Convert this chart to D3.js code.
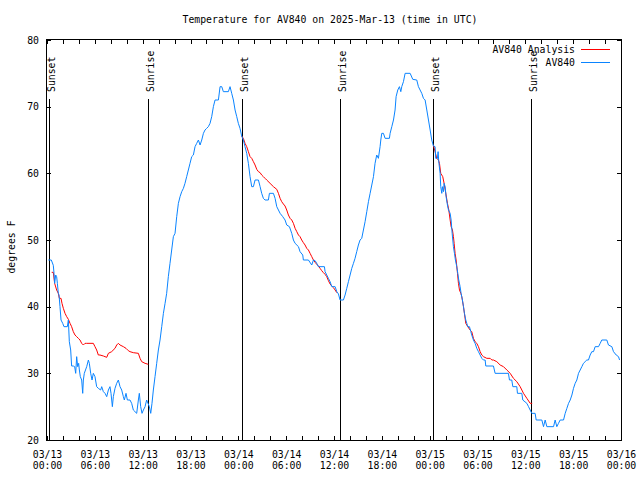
<!DOCTYPE html>
<html>
<head>
<meta charset="utf-8">
<script src="https://cdn.jsdelivr.net/npm/d3@7/dist/d3.min.js"></script>
<style>
  html, body { margin: 0; padding: 0; background: #fff; }
  svg { display: block; }
  text { font-family: "DejaVu Sans Mono", "Liberation Mono", monospace; font-size: 9.8px; fill: #000; }
</style>
</head>
<body>
<svg id="chart" width="640" height="480"></svg>
<script>
// ---- DATA (hours since 2025-03-13 00:00 UTC, degrees F) ----
const title = "Temperature for AV840 on 2025-Mar-13 (time in UTC)";
const yLabel = "degrees F";
const seriesNames = ["AV840 Analysis", "AV840"];
const yTicks = [20, 30, 40, 50, 60, 70, 80];

const sunsetHours = [0.3, 24.43, 48.47];
const sunriseHours = [12.71, 36.69, 60.76];

const analysisHours = [0.59,0.79,0.96,1.21,1.42,1.55,1.76,1.88,2.05,2.26,2.47,2.68,2.89,3.09,3.30,3.51,3.72,3.93,4.14,4.35,4.56,4.77,4.98,5.81,6.02,6.23,6.44,6.65,7.07,7.49,7.70,8.11,8.53,8.74,8.95,9.16,9.58,9.91,10.20,10.41,10.83,11.46,11.67,11.88,12.30,12.71,
  18.0,
  24.42,24.63,24.84,25.05,25.26,25.47,25.68,25.89,26.10,26.31,26.52,26.73,26.93,27.14,27.35,27.56,27.98,28.40,28.82,29.03,29.24,29.44,29.65,29.86,30.07,30.28,30.49,30.70,30.91,31.12,31.33,31.54,31.74,31.95,32.16,32.37,32.58,32.79,33.00,33.21,33.42,33.63,33.84,34.04,34.25,34.46,34.67,34.88,35.09,35.30,35.51,35.72,35.93,36.14,36.35,
  42.0,
  48.47,48.89,49.10,49.23,49.39,49.64,49.81,50.06,50.23,50.40,50.57,50.69,50.86,50.98,51.07,51.19,51.32,51.49,51.61,51.74,51.91,52.03,52.24,52.36,52.53,52.78,53.07,53.28,53.49,53.70,53.91,54.12,54.33,54.54,54.75,55.17,55.59,55.80,56.00,56.42,56.84,57.26,57.68,58.10,58.51,58.93,59.35,59.77,60.19,60.61,60.86];
const analysisTemps = [45.15,45.15,43.5,42.5,42,41.25,41.25,40.5,39.75,39,38.5,38.1,37.5,37,36.25,35.75,35.5,35.25,35,34.5,34.25,34.5,34.5,34.5,34,33.5,32.75,32.75,32.6,32.4,33,33.25,33.75,34.25,34.5,34.25,34,33.75,33.4,33.25,33.1,33,32.25,31.75,31.5,31.35,
  null,
  65.6,65.25,64.5,64,63.25,62.5,62.25,61.75,61.25,60.6,60.25,60.1,59.75,59.5,59.25,59,58.5,58,57.6,57,56.25,55.75,55.4,55.1,54.5,53.75,53.25,53,52.5,51.75,51.25,50.75,50.5,50,49.6,49.25,48.75,48.5,48,47.5,47,46.65,46.35,46.1,45.75,45.4,45.1,44.85,44.5,43.9,43.4,43.1,42.85,42.5,42.1,
  null,
  64.25,62.25,62,61.5,60,59.5,58.5,56.75,55.5,54.5,53,52,51.5,50.5,49.5,48,47,45,43.5,42.5,42,41.5,40,39,37.5,37,36.5,36.25,35.25,34.75,34.5,34,33.25,32.75,32.5,32.25,32.25,32,32,31.75,31.25,31,30.5,30,29.25,28.75,28,27,26.25,25.5,25.5];

const obsHours = [0.17,0.54,0.79,0.88,0.96,1.09,1.21,1.30,1.42,1.51,1.63,1.76,1.97,2.13,2.55,2.68,2.80,2.97,3.09,3.30,3.47,3.60,3.72,3.85,3.97,4.06,4.18,4.35,4.48,4.56,4.68,4.98,5.19,5.31,5.48,5.65,5.81,6.02,6.23,6.44,6.73,6.86,7.07,7.28,7.49,7.70,7.90,8.03,8.20,8.32,8.53,8.74,8.95,9.16,9.37,9.58,9.70,9.91,10.08,10.41,10.62,10.83,11.04,11.25,11.46,11.58,11.75,11.92,12.09,12.30,12.50,12.67,12.84,13.01,13.17,13.34,13.55,13.76,13.97,14.18,14.39,14.60,14.81,15.01,15.22,15.43,15.64,15.85,16.06,16.27,16.48,16.69,16.90,17.11,17.31,17.52,17.73,17.94,18.15,18.36,18.57,18.78,18.99,19.20,19.41,19.62,19.82,20.03,20.24,20.45,20.66,20.87,21.08,21.50,21.71,21.92,22.12,22.75,22.96,
  23.17,23.38,23.59,23.80,24.00,24.21,24.42,24.63,24.84,25.05,25.26,25.47,25.68,25.89,26.10,26.52,26.73,26.93,27.14,27.35,27.77,27.90,28.40,28.61,28.82,29.24,29.57,29.86,30.07,30.41,30.70,30.91,31.12,31.54,31.74,32.08,32.16,32.79,33.21,33.42,33.63,33.84,34.04,34.80,34.88,35.09,35.30,35.51,35.72,36.14,36.35,36.56,36.76,37.18,37.39,37.60,37.81,38.02,38.23,38.44,38.64,38.85,39.06,39.27,39.48,39.69,39.90,40.11,40.32,40.53,40.74,40.95,41.15,41.36,41.57,41.78,41.87,41.99,42.20,42.41,42.95,43.04,43.25,43.46,43.66,43.79,44.00,44.21,44.38,44.50,44.71,44.92,45.55,45.88,46.38,46.59,
  46.80,47.01,47.22,47.43,47.64,47.85,48.06,48.26,48.47,48.68,48.76,48.97,49.06,49.14,49.31,49.39,49.52,49.60,49.73,49.81,49.94,50.06,50.23,50.36,50.57,50.69,50.82,50.98,51.11,51.23,51.40,51.53,51.65,51.82,51.94,52.11,52.24,52.36,52.53,52.66,52.78,52.99,53.16,53.28,53.49,53.70,53.91,54.12,54.33,54.54,54.75,54.96,55.04,56.00,56.21,57.88,58.01,58.30,58.43,58.93,59.01,59.56,59.68,60.19,60.40,60.81,61.23,61.36,62.07,62.28,62.49,62.70,63.54,63.74,63.95,64.16,64.37,64.79,65.00,65.21,65.42,65.63,65.84,66.04,66.25,66.46,66.67,66.88,67.09,67.29,67.50,67.71,67.92,68.13,68.34,68.55,68.76,69.18,69.39,69.59,70.22,70.43,70.85,71.06,71.40,71.69,71.82];
const obsTemps = [47,47,46.2,45,43.5,44.75,44.5,43.5,42,41.75,40,38,37.5,37,37,38,34.75,33.5,31.1,31.1,31,30,32.5,31,31.5,30.5,29.5,29,27,29,30,31,32,31.5,30,29,30,29.5,28,27.75,27.5,28,27.25,27,26.5,27.5,28,27,25,26.5,27.75,28.5,29,28,27.5,26.5,26,27,26,26,25.5,24.5,24.25,24,26,27,25,24,24.5,25,26,25.5,25,24,25.5,27.5,29.5,31.5,33.5,35,37,39,40.5,42,44.5,46.5,48.5,50.5,51,53.5,55.5,56.5,57.25,57.75,58.5,59.5,60.5,61.5,62.5,62.75,64,64.5,65,64.25,65,66,66.5,66.75,67,67.5,68.5,70,71,71,73,73,72.25,72.25,73,
  72,71,69.5,68.5,67.5,66.75,65.6,65,64,63,61.5,59.5,58,58,59,59,58,57,56.25,56,56,57,57,56.25,55,54,53.5,53,52.25,52,51,50,49.5,49,48.25,47.75,47,47,46.25,47,46.9,46.5,46,46,45.25,44.75,44.25,43.75,43,43,42.25,41.9,41,41,41.75,42.75,43.75,44.75,45.75,46.5,47.25,48.25,49.25,50,50.25,51.5,52.75,54.25,55.75,57,58.25,59.5,61.5,62.75,62.25,64,65,66,66,65.25,65.25,66,67,68,69.5,71.5,72.5,73,72.25,73,73.75,75,75,74.1,74,73,
  72.5,72,71.25,71,69.5,68,66.5,65,64.1,64,62.25,62.25,63.25,61.75,60,58,57,58,57.25,58.5,58,56.5,55.25,54.5,54,53,51,49,48,47,46,45,44,43,42,41,40,39,38,37.5,37,37,36.25,35.75,35,34.5,33.75,33.25,32.75,32.25,32,32,31.1,31.1,30,30,29,29,28,28,27,27,26,25.5,25,24,24,23,23,22,23,22,22,23,22,22.5,23,23,24,24.75,25.5,26,26.75,27.75,28.5,29,30,30.5,31,31.5,31.75,32,32,32.75,33.25,33.25,34,34,34.5,35,35,34.25,34,33.25,32.75,32.5,32];

// ---- CHART ----
const t0 = Date.UTC(2025, 2, 13, 0, 0);
const toDate = h => new Date(t0 + h * 3600 * 1000);
const svg = d3.select("#chart");
const L = 47, R = 621, T = 40, B = 440;
const FONT = "DejaVu Sans Mono", FSIZE = "9.8px";

const x = d3.scaleUtc().domain([toDate(0), toDate(72)]).range([L, R]);
const y = d3.scaleLinear().domain([20, 80]).range([B, T]);

const redColor = "#ff0000";
const blueColor = "#0a84ff";

// x ticks every 2 hours, labels every 6
const xTickVals = d3.range(0, 73, 2).map(toDate);
const isMajor = d => d.getUTCHours() % 6 === 0;
const fmtDay = d3.utcFormat("%m/%d");
const fmtTime = d3.utcFormat("%H:%M");

const gx = svg.append("g").attr("transform", `translate(0,${B})`)
  .call(d3.axisBottom(x).tickValues(xTickVals).tickSizeInner(-4).tickSizeOuter(0).tickFormat(""));
gx.select(".domain").remove();
gx.selectAll(".tick line").attr("stroke", "#000").attr("shape-rendering", "crispEdges");
gx.selectAll(".tick").filter(d => isMajor(d)).each(function(d) {
  const t = d3.select(this).select("text");
  t.attr("dy", null).attr("y", 0).attr("fill", "#000")
    .style("font-family", FONT).style("font-size", FSIZE);
  t.text(null);
  t.append("tspan").attr("x", 0).attr("y", 18).text(fmtDay(d));
  t.append("tspan").attr("x", 0).attr("y", 29).text(fmtTime(d));
});

const gxt = svg.append("g").attr("transform", `translate(0,${T})`)
  .call(d3.axisTop(x).tickValues(xTickVals).tickSizeInner(-4).tickSizeOuter(0).tickFormat(""));
gxt.select(".domain").remove();
gxt.selectAll(".tick line").attr("stroke", "#000").attr("shape-rendering", "crispEdges");

const gy = svg.append("g").attr("transform", `translate(${L},0)`)
  .call(d3.axisLeft(y).tickValues(yTicks).tickSizeInner(-4).tickSizeOuter(0).tickPadding(8).tickFormat(d3.format("d")));
gy.select(".domain").remove();
gy.selectAll(".tick line").attr("stroke", "#000").attr("shape-rendering", "crispEdges");
gy.selectAll(".tick text").attr("fill", "#000").style("font-family", FONT).style("font-size", FSIZE);

const gyr = svg.append("g").attr("transform", `translate(${R},0)`)
  .call(d3.axisRight(y).tickValues(yTicks).tickSizeInner(-4).tickSizeOuter(0).tickFormat(""));
gyr.select(".domain").remove();
gyr.selectAll(".tick line").attr("stroke", "#000").attr("shape-rendering", "crispEdges");

// border
svg.append("rect").attr("x", L - 0.5).attr("y", T - 0.5).attr("width", R - L + 1).attr("height", B - T + 1)
  .attr("fill", "none").attr("stroke", "#000").attr("stroke-width", 1);

// sun lines
const sunEvents = sunsetHours.map(h => ({h, label: "Sunset"}))
  .concat(sunriseHours.map(h => ({h, label: "Sunrise"})));
sunEvents.forEach(e => {
  const xp = Math.round(x(toDate(e.h))) + 0.5;
  svg.append("line").attr("x1", xp).attr("x2", xp).attr("y1", 99).attr("y2", B)
    .attr("stroke", "#000").attr("stroke-width", 1);
  svg.append("text").attr("transform", `translate(${xp + 5},92) rotate(-90)`)
    .attr("text-anchor", "start").text(e.label);
});

// lines
const analysisData = analysisHours.map((h, i) => ({t: toDate(h), v: analysisTemps[i]}));
const obsData = obsHours.map((h, i) => ({t: toDate(h), v: obsTemps[i]}));
const line = d3.line().defined(d => d.v != null).x(d => x(d.t)).y(d => y(d.v));

svg.append("path").datum(analysisData).attr("d", line)
  .attr("fill", "none").attr("stroke", redColor).attr("stroke-width", 1);
svg.append("path").datum(obsData).attr("d", line)
  .attr("fill", "none").attr("stroke", blueColor).attr("stroke-width", 1);

// title
svg.append("text").attr("x", 330).attr("y", 23).attr("text-anchor", "middle").text(title);

// y label
svg.append("text").attr("transform", "translate(15,247) rotate(-90)").attr("text-anchor", "middle").text(yLabel);

// legend
const legColors = [redColor, blueColor];
seriesNames.forEach((name, i) => {
  const ly = 49.5 + i * 13;
  svg.append("text").attr("x", 575).attr("y", ly + 3.5).attr("text-anchor", "end").text(name);
  svg.append("line").attr("x1", 581).attr("x2", 610).attr("y1", ly).attr("y2", ly)
    .attr("stroke", legColors[i]).attr("stroke-width", 1);
});
</script>
</body>
</html>
